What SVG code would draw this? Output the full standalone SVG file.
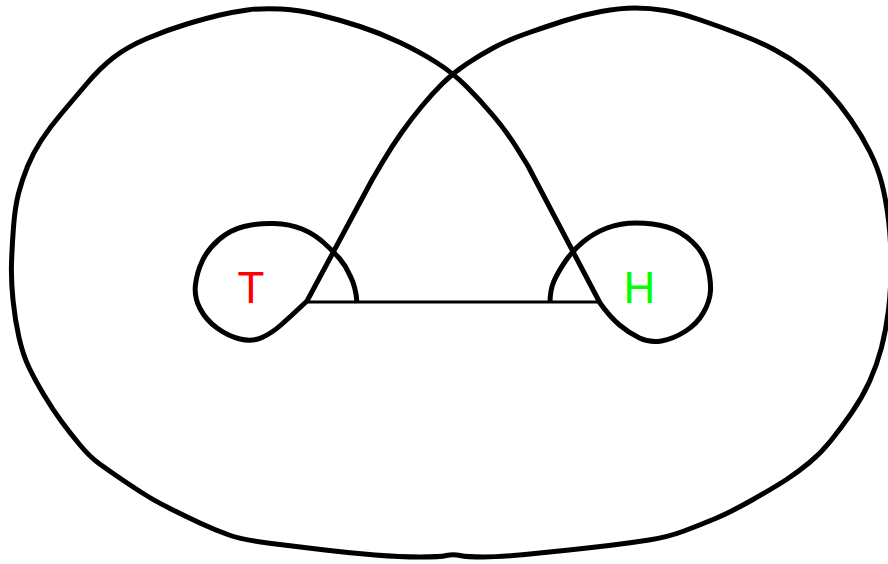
<svg xmlns="http://www.w3.org/2000/svg" width="888" height="564" viewBox="0 0 888 564">
<style>
.curve{fill:none;stroke:#000;stroke-width:5;stroke-linejoin:round;stroke-linecap:butt}
.link{fill:none;stroke:#000;stroke-width:3.2}
.lbl{font-family:"Liberation Sans",Arial,sans-serif;font-size:44px;text-anchor:middle}
</style>
<rect width="888" height="564" fill="#fff"/>
<g id="curve">
<path class="curve" d="M357,303 Q356,287 350,275.5 Q346,266 339.5,258.5 Q333,251 323.5,242.5 Q314,234 302,229 Q290,224 274,223.5 Q258,223 244,226.5 Q230,230 219,239.5 Q208,249 202.5,260.5 Q197,272 195.5,284.5 Q194,297 200,308.5 Q206,320 217,328 Q228,336 240,339 Q252,342 262,337.5 Q272,333 281.5,324.5 Q291,316 299,308.5 L307,301 L372,180 L382,163 Q392,146 402,132 Q412,118 422,106 Q432,94 442.5,83.5 Q453,73 466.5,64 Q480,55 494,47.5 Q508,40 526.5,33.5 Q545,27 563.5,21 Q582,15 601,11.5 Q620,8 635,8 Q650,8 665,10.5 Q680,13 700.5,20 Q721,27 740.5,34.5 Q760,42 775,50 Q790,58 802.5,67.5 Q815,77 827.5,90.5 Q840,104 851,120 Q862,136 870,152 Q878,168 882,184 Q886,200 888.5,220 Q891,240 891,265 Q891,290 888.5,310 Q886,330 881.5,347.5 Q877,365 869.5,381.5 Q862,398 851.5,413 Q841,428 831,440.5 Q821,453 809.5,462.5 Q798,472 786.5,479.5 Q775,487 753,499.5 Q731,512 715.5,518.5 Q700,525 684,531 Q668,537 649,540 Q630,543 609,545.5 Q588,548 569,550 Q550,552 525,554.5 Q500,557 483.5,557 Q467,557 460,555.5 Q453,554 446.5,555.5 Q440,557 420,557 Q400,557 375,555 Q350,553 325,550 Q300,547 271.5,543.5 Q243,540 229,535 Q215,530 201,523.5 Q187,517 170,508.5 Q153,500 140,491.5 Q127,483 117.5,476.5 Q108,470 99,463.5 Q90,457 80,445 Q70,433 61.5,421.5 Q53,410 44,395 Q35,380 29,367.5 Q23,355 19,337.5 Q15,320 13,300 Q11,280 11.5,263.5 Q12,247 13.5,227 Q15,207 18.5,193.5 Q22,180 27.5,166.5 Q33,153 41.5,140 Q50,127 61.5,113.5 Q73,100 86.5,84 Q100,68 113.5,57.5 Q127,47 147,38.5 Q167,30 187,24 Q207,18 220,15 Q233,12 247.5,10 Q262,8 281,9 Q300,10 320,15 Q340,20 360,26.5 Q380,33 400,42.5 Q420,52 436.5,62.5 Q453,73 466.5,86.5 Q480,100 493.5,116 Q507,132 517.5,149 L528,166 L600,303 Q610,317 619.5,325 Q629,333 639.5,338 Q650,343 661.5,341 Q673,339 685,331.5 Q697,324 703.5,312.5 Q710,301 710.5,290.5 Q711,280 707.5,266.5 Q704,253 692.5,242 Q681,231 667,227 Q653,223 636.5,223 Q620,223 607,228 Q594,233 583.5,241.5 Q573,250 565.5,261 Q558,272 554,281 Q550,290 550,303"/>
</g>
<g id="connectors">
<line class="link" x1="307" y1="302" x2="600" y2="302"/>
</g>
<g id="node-T">
<text class="lbl" x="251" y="303" fill="#ff0000">T</text>
</g>
<g id="node-H">
<text class="lbl" x="639.5" y="303" fill="#00ff00">H</text>
</g>
</svg>
